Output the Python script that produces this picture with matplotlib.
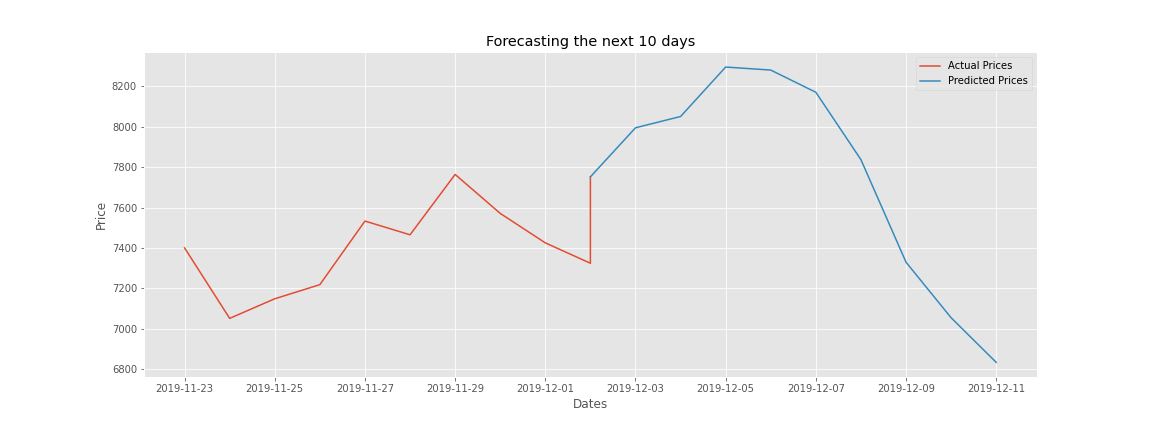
import matplotlib
matplotlib.use("Agg")
import matplotlib.pyplot as plt
import pandas as pd

plt.style.use("ggplot")

actual_dates = ["2019-11-23", "2019-11-24", "2019-11-25", "2019-11-26", "2019-11-27",
                "2019-11-28", "2019-11-29", "2019-11-30", "2019-12-01", "2019-12-02"]
actual_prices = [7400, 7051, 7148, 7218, 7533, 7465, 7764, 7571, 7425, 7324]

pred_dates = ["2019-12-02", "2019-12-03", "2019-12-04", "2019-12-05", "2019-12-06",
              "2019-12-07", "2019-12-08", "2019-12-09", "2019-12-10", "2019-12-11"]
pred_prices = [7752, 7995, 8051, 8296, 8281, 8171, 7837, 7329, 7054, 6833]

ad = pd.to_datetime(actual_dates + pred_dates[:1])
av = actual_prices + pred_prices[:1]
pdts = pd.to_datetime(pred_dates)

fig = plt.figure(figsize=(16, 6), dpi=72)
ax = fig.add_subplot(111)
fig.subplots_adjust(left=0.125, right=0.9, top=0.879, bottom=0.127)
ax.plot(ad, av, label="Actual Prices")
ax.plot(pdts, pred_prices, label="Predicted Prices")
ax.set_title("Forecasting the next 10 days")
ax.set_xlabel("Dates")
ax.set_ylabel("Price")
ax.legend(loc="upper right")
fig.savefig("out.png", dpi=72)
